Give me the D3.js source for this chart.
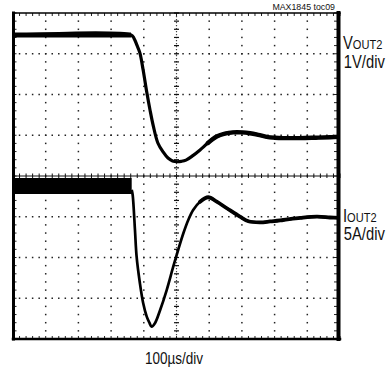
<!DOCTYPE html>
<html><head><meta charset="utf-8">
<script src="https://cdn.jsdelivr.net/npm/d3@7"></script>
<style>html,body{margin:0;padding:0;background:#fff;} svg{display:block;}</style>
</head><body>
<script>
// ---- data ----
// time in microseconds (100 us/div, 10 divisions)
const voutT = [0, 361, 370, 379, 388, 398, 409, 419, 429, 443, 459, 474, 488, 501, 515, 529, 550, 572, 596, 623, 648, 673, 700, 725, 750, 776, 800, 826, 878, 927, 970, 1000];
// VOUT2 in volts on screen (1 V/div, top half spans 0..4 V)
const voutV = [3.46, 3.46, 3.38, 3.21, 3.02, 2.60, 2.06, 1.62, 1.23, 0.81, 0.59, 0.44, 0.37, 0.35, 0.36, 0.39, 0.50, 0.64, 0.81, 0.97, 1.04, 1.07, 1.07, 1.05, 1.01, 0.96, 0.94, 0.93, 0.93, 0.94, 0.95, 0.96];
// IOUT2 in amps on screen (5 A/div, bottom half spans 0..20 A)
const ioutT = [363, 366, 373, 378, 388, 398, 409, 417, 424, 434, 450, 470, 490, 505, 521, 536, 551, 572, 597, 623, 654, 694, 720, 755, 786, 826, 878, 929, 969, 1000];
const ioutA = [18.3, 17.67, 13.37, 10.10, 6.87, 4.42, 2.74, 2.0, 1.51, 1.93, 3.56, 6.01, 8.87, 10.92, 12.97, 14.60, 15.83, 16.85, 17.39, 16.85, 16.04, 15.01, 14.45, 14.32, 14.42, 14.60, 14.85, 15.01, 14.91, 14.85];
// noisy pre-step load current band (envelope)
const ioutBandT = [0, 363];
const ioutBandHigh = [19.75, 19.75];
const ioutBandLow = [17.8, 17.8];
const xDivCount = 10, yDivCount = 8, minorPerDiv = 5;
const noteText = "MAX1845 toc09";
const voutLabel = ["V", "OUT2", "1V/div"];
const ioutLabel = ["I", "OUT2", "5A/div"];
const timeLabel = "100\u00B5s/div";

// ---- layout ----
const W = 391, H = 370;
const L = 13, R = 340, T = 13, B = 339;
const svg = d3.select("body").append("svg").attr("width", W).attr("height", H);
svg.append("defs").append("clipPath").attr("id", "plotclip")
  .append("rect").attr("x", L).attr("y", T).attr("width", R - L).attr("height", B - T);
const x = d3.scaleLinear().domain([0, 1000]).range([L, R]);
const xDiv = d3.scaleLinear().domain([0, xDivCount]).range([L, R]);
const yDiv = d3.scaleLinear().domain([0, yDivCount]).range([B, T]);
const yV = d3.scaleLinear().domain([0, 4]).range([yDiv(4), yDiv(8)]);
const yI = d3.scaleLinear().domain([0, 20]).range([yDiv(0), yDiv(4)]);

const minorX = d3.range(0, xDivCount * minorPerDiv + 1).map(i => i / minorPerDiv);
const minorY = d3.range(0, yDivCount * minorPerDiv + 1).map(i => i / minorPerDiv);
const g = svg.append("g");
const dotC = "#222";

// dotted horizontal grid lines
for (let j = 1; j < yDivCount; j++) {
  if (j === yDivCount / 2) continue;
  g.selectAll(null).data(minorX.filter(v => v > 0 && v < xDivCount)).enter().append("rect")
    .attr("x", d => xDiv(d) - 0.75).attr("y", yDiv(j) - 0.75).attr("width", 1.5).attr("height", 1.5).attr("fill", dotC);
}
// dotted vertical grid lines
for (let i = 1; i < xDivCount; i++) {
  if (i === xDivCount / 2) continue;
  g.selectAll(null).data(minorY.filter(v => v > 0 && v < yDivCount)).enter().append("rect")
    .attr("x", xDiv(i) - 0.75).attr("y", d => yDiv(d) - 0.75).attr("width", 1.5).attr("height", 1.5).attr("fill", dotC);
}
// centre horizontal axis with ticks
const cy = yDiv(yDivCount / 2), cx = xDiv(xDivCount / 2);
g.append("line").attr("x1", L).attr("x2", R).attr("y1", cy).attr("y2", cy).attr("stroke", "#111").attr("stroke-width", 1.2);
g.selectAll(null).data(minorX).enter().append("line")
  .attr("x1", d => xDiv(d)).attr("x2", d => xDiv(d)).attr("y1", cy - 2.5).attr("y2", cy + 2).attr("stroke", "#111").attr("stroke-width", 1);
// centre vertical axis (dotted) with ticks
g.append("line").attr("x1", cx).attr("x2", cx).attr("y1", T).attr("y2", B).attr("stroke", "#444").attr("stroke-width", 1.2).attr("stroke-dasharray", "1.2,1.8");
g.selectAll(null).data(minorY).enter().append("line")
  .attr("y1", d => yDiv(d)).attr("y2", d => yDiv(d)).attr("x1", cx - 2.5).attr("x2", cx + 2.5).attr("stroke", "#111").attr("stroke-width", 1.2);
// edge ticks
g.selectAll(null).data(minorX).enter().append("line")
  .attr("x1", d => xDiv(d)).attr("x2", d => xDiv(d)).attr("y1", T).attr("y2", T + 3).attr("stroke", "#222").attr("stroke-width", 1);
g.selectAll(null).data(minorX).enter().append("line")
  .attr("x1", d => xDiv(d)).attr("x2", d => xDiv(d)).attr("y1", B - 3).attr("y2", B).attr("stroke", "#222").attr("stroke-width", 1);
g.selectAll(null).data(minorY).enter().append("line")
  .attr("y1", d => yDiv(d)).attr("y2", d => yDiv(d)).attr("x1", L).attr("x2", L + 3.5).attr("stroke", "#222").attr("stroke-width", 1);
g.selectAll(null).data(minorY).enter().append("line")
  .attr("y1", d => yDiv(d)).attr("y2", d => yDiv(d)).attr("x1", R - 6).attr("x2", R).attr("stroke", "#222").attr("stroke-width", 1);

// ---- traces ----
const vData = voutT.map((t, i) => ({ t, v: voutV[i] }));
const iData = ioutT.map((t, i) => ({ t, v: ioutA[i] }));
const bandData = ioutBandT.map((t, i) => ({ t, hi: ioutBandHigh[i], lo: ioutBandLow[i] }));

const tr = svg.append("g").attr("clip-path", "url(#plotclip)");
tr.append("path").datum(bandData)
  .attr("d", d3.area().x(d => x(d.t)).y0(d => yI(d.lo)).y1(d => yI(d.hi)))
  .attr("fill", "#000");

const curve = d3.curveCatmullRom.alpha(0.5);
const lineV = d3.line().x(d => x(d.t)).y(d => yV(d.v)).curve(curve);
const lineI = d3.line().x(d => x(d.t)).y(d => yI(d.v)).curve(curve);
tr.append("path").datum(vData.filter(d => d.t <= 361)).attr("d", lineV)
  .attr("fill", "none").attr("stroke", "#000").attr("stroke-width", 5);
tr.append("path").datum(vData).attr("d", lineV)
  .attr("fill", "none").attr("stroke", "#000").attr("stroke-width", 3.2).attr("stroke-linejoin", "round");
tr.append("path").datum(vData.filter(d => d.t >= 596)).attr("d", lineV)
  .attr("fill", "none").attr("stroke", "#000").attr("stroke-width", 4.4).attr("stroke-linecap", "round");
tr.append("path").datum(iData).attr("d", lineI)
  .attr("fill", "none").attr("stroke", "#000").attr("stroke-width", 2.7).attr("stroke-linejoin", "round");
tr.append("path").datum(iData.filter(d => d.t >= 572)).attr("d", lineI)
  .attr("fill", "none").attr("stroke", "#000").attr("stroke-width", 3.8).attr("stroke-linecap", "round");

// ---- frame ----
const fr = svg.append("g").attr("stroke", "#000").attr("stroke-linecap", "square");
fr.append("line").attr("x1", L).attr("x2", R).attr("y1", T).attr("y2", T).attr("stroke-width", 1.5);
fr.append("line").attr("x1", L).attr("x2", R).attr("y1", B).attr("y2", B).attr("stroke-width", 2.5);
fr.append("line").attr("x1", L + 0.5).attr("x2", L + 0.5).attr("y1", T).attr("y2", B).attr("stroke-width", 3);
fr.append("line").attr("x1", R - 1.5).attr("x2", R - 1.5).attr("y1", T).attr("y2", B).attr("stroke-width", 4);

// ---- text ----
const font = "'Liberation Sans', Arial, sans-serif";
svg.append("text").attr("x", 335).attr("y", 10).attr("text-anchor", "end")
  .attr("font-family", font).attr("font-size", 8.8).attr("fill", "#111").text(noteText);

function sideLabel(lbl, x0, yBase) {
  const gg = svg.append("g").attr("transform", `translate(${x0},0) scale(0.82,1)`);
  const t1 = gg.append("text").attr("x", 0).attr("y", yBase).attr("font-family", font).attr("fill", "#111");
  t1.append("tspan").attr("font-size", 18).text(lbl[0]);
  t1.append("tspan").attr("font-size", 13.5).text(lbl[1]);
  gg.append("text").attr("x", 1).attr("y", yBase + 18.5).attr("font-family", font).attr("font-size", 18).attr("fill", "#111").text(lbl[2]);
}
sideLabel(voutLabel, 343, 49.5);
sideLabel(ioutLabel, 343, 222);

svg.append("g").attr("transform", `translate(174,0) scale(0.82,1)`)
  .append("text").attr("x", 0).attr("y", 364).attr("text-anchor", "middle")
  .attr("font-family", font).attr("font-size", 16.5).attr("fill", "#111").text(timeLabel);
</script>
</body></html>
